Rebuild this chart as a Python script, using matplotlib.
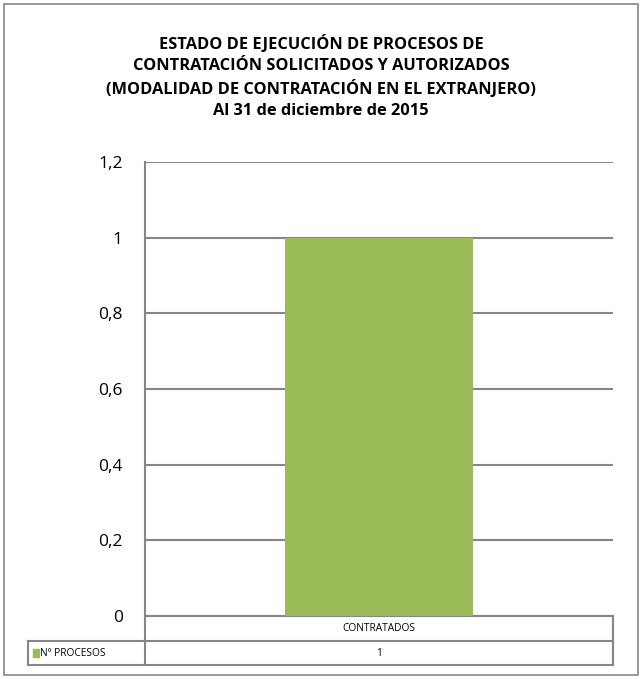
import numpy as np
import matplotlib.pyplot as plt
from matplotlib.patches import Rectangle

plt.rcParams['font.family'] = ['Open Sans', 'DejaVu Sans']

categorias = ['CONTRATADOS']
procesos = [1]
serie = 'Nº PROCESOS'
ticks = [0, 0.2, 0.4, 0.6, 0.8, 1, 1.2]
tick_labels = ['0', '0,2', '0,4', '0,6', '0,8', '1', '1,2']

verde = '#9BBB59'
gris = '#868686'

fig = plt.figure(figsize=(6.42, 6.79), dpi=100)
fig.add_artist(Rectangle((0.006, 0.006), 0.988, 0.988, transform=fig.transFigure,
                         fill=False, edgecolor=gris, linewidth=1.2))

ax = fig.add_axes([145/642, 1-616/679, 468/642, 454/679])
x = np.arange(len(categorias))
ax.bar(x, procesos, width=0.4, color=verde, zorder=3)
ax.set_xlim(-0.5, len(categorias)-0.5)
ax.set_ylim(0, 1.2)
ax.set_yticks(ticks)
ax.set_yticklabels(tick_labels, fontsize=12.5)
ax.tick_params(axis='y', length=0, pad=16)
ax.set_xticks([])
for s in ['top', 'right', 'bottom']:
    ax.spines[s].set_visible(False)
ax.spines['left'].set_color(gris)
ax.spines['left'].set_linewidth(1.5)
ax.yaxis.grid(True, color=gris, linewidth=1.5, zorder=0)

titulo = ['ESTADO DE EJECUCIÓN DE PROCESOS DE',
          'CONTRATACIÓN SOLICITADOS Y AUTORIZADOS',
          '(MODALIDAD DE CONTRATACIÓN EN EL EXTRANJERO)',
          'Al 31 de diciembre de 2015']
for k, linea in enumerate(titulo):
    fig.text(0.5, 1-(44 + 22.3*k)/679, linea, ha='center', va='center',
             fontsize=11.8, fontweight='bold')

# data table under the axis
t = ax.transAxes
r1 = -(641-616)/454
r2 = -(665-616)/454
xl = -(145-28)/468
kw = dict(transform=t, color=gris, linewidth=1.5, clip_on=False)
ax.plot([0, 1], [0, 0], **kw)
ax.plot([xl, 1], [r1, r1], **kw)
ax.plot([xl, 1], [r2, r2], **kw)
ax.plot([0, 0], [0, r2], **kw)
ax.plot([1, 1], [0, r2], **kw)
ax.plot([xl, xl], [r1, r2], **kw)
n = len(categorias)
for i, (c, v) in enumerate(zip(categorias, procesos)):
    cx = (i + 0.5) / n
    ax.text(cx, r1/2, c, transform=t, ha='center', va='center', fontsize=7.3)
    ax.text(cx, (r1+r2)/2, str(v), transform=t, ha='center', va='center', fontsize=7.3)
ax.add_patch(Rectangle((xl + 0.01, (r1+r2)/2 - 0.009), 0.013, 0.018, transform=t,
                       color=verde, clip_on=False))
ax.text(xl + 0.026, (r1+r2)/2, serie, transform=t, ha='left', va='center', fontsize=7.3)

fig.savefig('out.png', dpi=100)
